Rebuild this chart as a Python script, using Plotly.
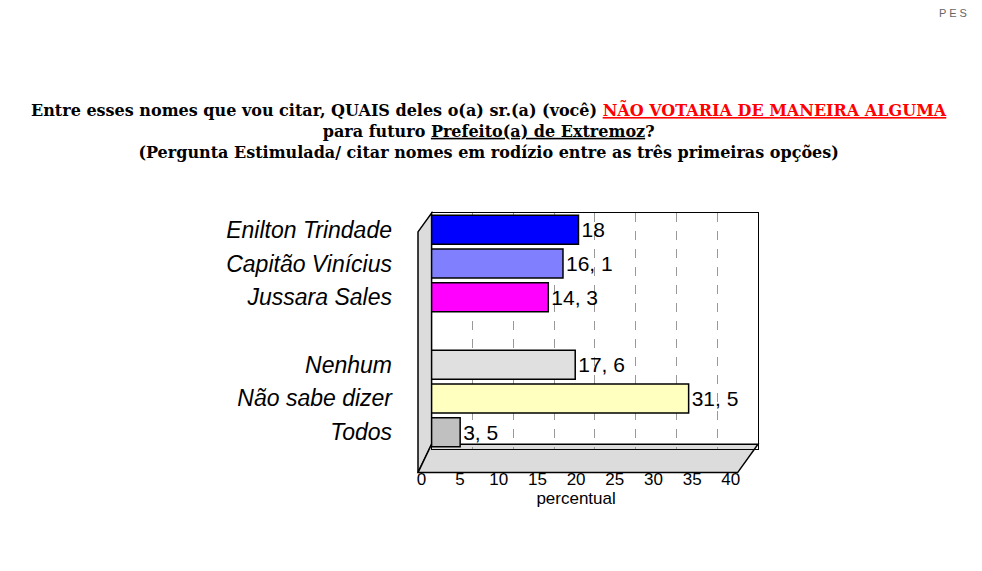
import plotly.graph_objects as go

categorias = ["Enilton Trindade", "Capitão Vinícius", "Jussara Sales", " ",
              "Nenhum", "Não sabe dizer", "Todos"]
valores = [18, 16.1, 14.3, None, 17.6, 31.5, 3.5]
cores = ["#0000FF", "#8080FF", "#FF00FF", "#FFFFFF", "#E0E0E0", "#FFFFC0", "#C0C0C0"]

fig = go.Figure()

fig.add_trace(go.Bar(
    y=categorias, x=valores, orientation="h",
    marker=dict(color=cores, line=dict(color="black", width=1.5)),
    width=0.86,
    text=[("" if v is None else f"{v:g}".replace(".", ", ")) for v in valores],
    textposition="outside", cliponaxis=False,
    textfont=dict(family="Arial", size=21, color="black"),
    showlegend=False,
))

# eixo de ticks inferior (sem dados próprios)
fig.add_trace(go.Scatter(x=[0, 40], y=[categorias[0], categorias[0]], xaxis="x2",
                         mode="markers", marker=dict(opacity=0), showlegend=False,
                         hoverinfo="skip"))

# paredes "3D" (decoração)
fig.add_shape(type="path", xref="paper", yref="paper",
              path="M 0.04 0.02 L 0.0 -0.1 L 0.0 0.92 L 0.04 1 Z",
              fillcolor="#DCDCDC", line=dict(color="black", width=1.5), layer="below")
fig.add_shape(type="path", xref="paper", yref="paper",
              path="M 0.0 -0.1 L 0.94 -0.1 L 1.0 0.02 L 0.04 0.02 Z",
              fillcolor="#DCDCDC", line=dict(color="black", width=1.5), layer="below")

fig.update_layout(
    width=982, height=571,
    margin=dict(l=410, r=232, t=205, b=130),
    plot_bgcolor="rgba(0,0,0,0)", paper_bgcolor="white",
    bargap=0.1,
    xaxis=dict(domain=[0.04, 1], range=[0, 40], dtick=5,
               showgrid=True, gridcolor="#999999", griddash="dash",
               showticklabels=False, zeroline=False,
               showline=True, linecolor="black", mirror=True),
    xaxis2=dict(domain=[0.01, 0.92], range=[0, 40], dtick=5,
                anchor="free", position=0, side="bottom",
                showgrid=False, zeroline=False, ticks="", ticklabelstandoff=18,
                tickfont=dict(family="Arial", size=17, color="black"),
                title=dict(text="percentual", font=dict(family="Arial", size=17, color="black"), standoff=4)),
    yaxis=dict(autorange="reversed", showgrid=False,
               showline=True, linecolor="black", mirror=True,
               ticks="", ticklabelstandoff=34,
               tickfont=dict(family="Arial", size=23, color="black", style="italic")),
)

titulo = ("<b>Entre esses nomes que vou citar, QUAIS deles o(a) sr.(a) (você) "
          "<span style='color:#FF0000'><u>NÃO VOTARIA DE MANEIRA ALGUMA</u></span><br>"
          "para futuro <u>Prefeito(a) de Extremoz</u>?<br>"
          "(Pergunta Estimulada/ citar nomes em rodízio entre as três primeiras opções)</b>")
fig.add_annotation(text=titulo, xref="paper", yref="paper", x=0.21, y=1.49,
                   xanchor="center", yanchor="top", showarrow=False, align="center",
                   font=dict(family="DejaVu Serif", size=16, color="black"))
fig.add_annotation(text="P E S", xref="paper", yref="paper", x=1.62, y=1.88,
                   xanchor="right", yanchor="top", showarrow=False,
                   font=dict(family="Arial", size=11, color="#666666"))

fig.write_html("out.html")
